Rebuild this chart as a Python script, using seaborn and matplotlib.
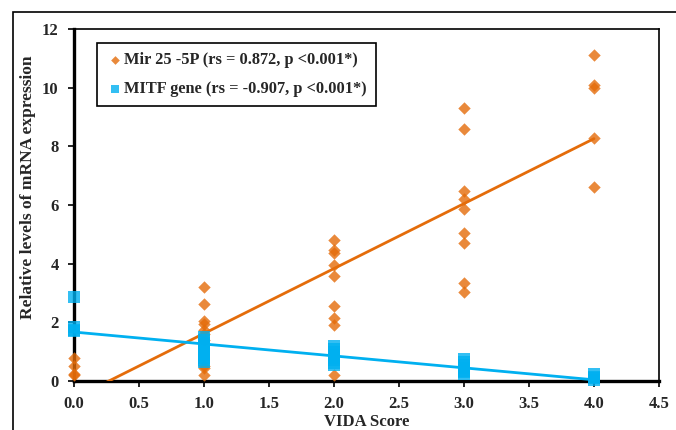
import numpy as np
import pandas as pd
import seaborn as sns
import matplotlib
matplotlib.use("Agg")
import matplotlib.pyplot as plt
from matplotlib.patches import Rectangle

# ---- data ----
mir_x = [0, 0, 0, 0,
         1, 1, 1, 1, 1, 1, 1, 1, 1, 1,
         2, 2, 2, 2, 2, 2, 2, 2, 2,
         3, 3, 3, 3, 3, 3, 3, 3, 3,
         4, 4, 4, 4, 4]
mir_y = [0.78, 0.5, 0.25, 0.2,
         3.2, 2.62, 2.05, 1.95, 1.75, 1.6, 1.4, 0.5, 0.45, 0.2,
         4.8, 4.45, 4.37, 3.94, 3.57, 2.54, 2.14, 1.91, 0.2,
         9.3, 8.58, 6.47, 6.22, 5.87, 5.05, 4.71, 3.34, 3.05,
         11.1, 10.1, 10.0, 8.3, 6.6]

mitf_x = [0, 0, 0, 0,
          1, 1, 1, 1, 1, 1, 1, 1, 1, 1,
          2, 2, 2, 2, 2, 2, 2, 2,
          3, 3, 3, 3, 3, 3, 3,
          4, 4, 4, 4]
mitf_y = [2.88, 1.85, 1.75, 1.7,
          1.5, 1.4, 1.3, 1.2, 1.1, 1.0, 0.9, 0.8, 0.7, 0.65,
          1.2, 1.1, 1.0, 0.9, 0.8, 0.7, 0.6, 0.55,
          0.75, 0.65, 0.55, 0.45, 0.35, 0.3, 0.25,
          0.25, 0.15, 0.1, 0.05]

mir_label = "Mir 25 -5P (rs = 0.872, p <0.001*)"
mitf_label = "MITF gene (rs = -0.907, p <0.001*)"
x_ticks = [0.0, 0.5, 1.0, 1.5, 2.0, 2.5, 3.0, 3.5, 4.0, 4.5]
y_ticks = [0, 2, 4, 6, 8, 10, 12]

ORANGE = "#E46C0A"
BLUE = "#00B0F0"

sns.set_theme(style="white")
plt.rcParams["font.family"] = ["Liberation Serif", "DejaVu Serif"]
plt.rcParams["font.weight"] = "bold"

fig = plt.figure(figsize=(6.76, 4.30), dpi=100)
ax = fig.add_axes([74/676, 1 - 381/430, (659 - 74)/676, (381 - 29)/430])

mir_df = pd.DataFrame({"x": mir_x, "y": mir_y})
mitf_df = pd.DataFrame({"x": mitf_x, "y": mitf_y})

sns.regplot(data=mir_df, x="x", y="y", ax=ax, ci=None, marker="D",
            color=ORANGE, label=mir_label,
            scatter_kws=dict(s=40, linewidths=0, zorder=3, clip_on=False),
            line_kws=dict(lw=2.0, zorder=2))
sns.regplot(data=mitf_df, x="x", y="y", ax=ax, ci=None, marker="s",
            color=BLUE, label=mitf_label,
            scatter_kws=dict(s=70, linewidths=0, zorder=4, clip_on=False),
            line_kws=dict(lw=2.0, zorder=2))

ax.set_xlim(0, 4.5)
ax.set_ylim(0, 12)
ax.set_xticks(x_ticks)
ax.set_xticklabels([f"{t:.1f}" for t in x_ticks])
ax.set_yticks(y_ticks)
ax.set_yticklabels([str(t) for t in y_ticks])

for side in ["left", "bottom"]:
    ax.spines[side].set_linewidth(2.4)
    ax.spines[side].set_color("black")
    ax.spines[side].set_zorder(1)
for side in ["top", "right"]:
    ax.spines[side].set_linewidth(1.2)
    ax.spines[side].set_color("black")
    ax.spines[side].set_visible(True)

ax.tick_params(axis="both", which="major", direction="out", length=4,
               width=1.2, color="black", labelsize=12, pad=7)
ax.tick_params(axis="x", bottom=True, top=False)
ax.tick_params(axis="y", left=True, right=False)
for lbl in ax.get_xticklabels() + ax.get_yticklabels():
    lbl.set_fontweight("bold")

ax.set_xlabel("VIDA Score", fontsize=12, fontweight="bold")
ax.xaxis.set_label_coords(0.5, -0.095)
ax.set_ylabel("Relative levels of mRNA expression", fontsize=12.5,
              fontweight="bold")
ax.yaxis.set_label_coords(-0.065, 0.55)

leg = ax.legend(loc="upper left", bbox_to_anchor=(0.04, 0.96), frameon=True,
                fancybox=False, edgecolor="black", framealpha=1,
                prop=dict(family="Liberation Serif", weight="bold", size=11.8),
                markerscale=0.7, handletextpad=0.1, handlelength=1.0,
                borderpad=0.55, labelspacing=0.8, borderaxespad=0)
leg.get_frame().set_linewidth(1.2)

# outer figure frame (left/top visible, extends beyond the image)
fig.patches.append(Rectangle((13/676, -0.2), 1.2, 1 - 12/430 + 0.2,
                             transform=fig.transFigure, fill=False,
                             edgecolor="black", linewidth=1.2, zorder=0))

fig.savefig("out.png", dpi=100)
